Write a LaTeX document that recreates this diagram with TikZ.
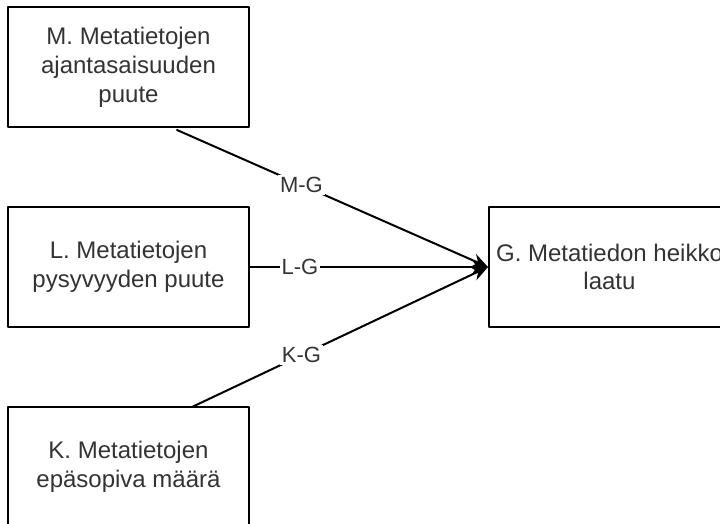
\documentclass[tikz,border=0pt]{standalone}
\usepackage{fontspec}
\setmainfont{Liberation Sans}
\usetikzlibrary{arrows.meta}
\tikzset{
  every picture/.append style={line cap=round,line join=round},
  meta box/.style={draw=black,line width=1pt,fill=white,minimum width=120.5pt,minimum height=60pt,inner sep=0pt,align=center,text=black!80,font=\fontsize{12}{14.4}\selectfont},
  meta link/.style={line width=1pt,-{Stealth[length=8pt,width=7pt]}},
  meta tag/.style={fill=white,inner sep=1pt,text=black!80,font=\fontsize{11}{13}\selectfont}
}
\begin{document}
\begin{tikzpicture}[x=0.5pt,y=-0.5pt]
\useasboundingbox (0,0) rectangle (720,524);
\node[meta box] (m) at (128.5,67) {M. Metatietojen\\ajantasaisuuden\\puute};
\node[meta box] (l) at (128.5,267) {L. Metatietojen\\pysyvyyden puute};
\node[meta box] (k) at (128.5,467) {K. Metatietojen\\epäsopiva määrä};
\node[meta box] (g) at (609.5,267) {G. Metatiedon heikko\\laatu};
\coordinate (m out) at (177,130);
\coordinate (k out) at (192,407);
\draw[meta link] (m out) -- node[meta tag,pos=0.4] {M-G} (g.west);
\draw[meta link] (l.east) -- node[meta tag,pos=0.21] {L-G} (g.west);
\draw[meta link] (k out) -- node[meta tag,pos=0.37] {K-G} (g.west);
\end{tikzpicture}
\end{document}
